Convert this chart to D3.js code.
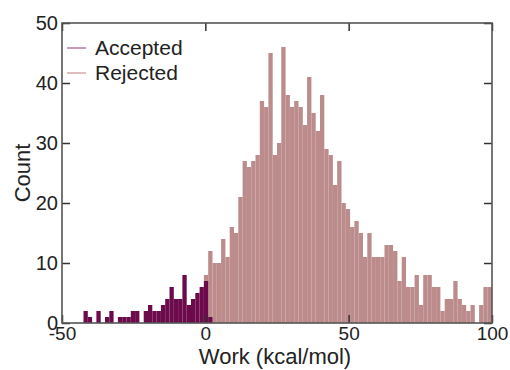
<!DOCTYPE html>
<html>
<head>
<meta charset="utf-8">
<script src="https://cdn.jsdelivr.net/npm/d3@7"></script>
<style>
  body { margin: 0; background: #fff; }
  svg { display: block; font-family: "Liberation Sans", Arial, sans-serif; }
  .tick text { fill: #222; }
  .tick line { stroke: #333; stroke-width: 1.5; }
</style>
</head>
<body>
<svg id="chart" width="510" height="370"></svg>
<script>
// Histogram bins: 100 bins of 1.5 kcal/mol from -50 to 100
const binStart = -50;
const binWidth = 1.5;

// Counts per bin, accepted moves
const accepted = [
  0, 0, 0, 0, 0, 2, 1, 0, 2, 0,
  1, 2, 0, 1, 1, 1, 2, 2, 0, 2,
  3, 2, 2, 3, 4, 6, 4, 4, 8, 3,
  4, 5, 6, 7, 1, 0, 0, 0, 0, 0,
  0, 0, 0, 0, 0, 0, 0, 0, 0, 0,
  0, 0, 0, 0, 0, 0, 0, 0, 0, 0,
  0, 0, 0, 0, 0, 0, 0, 0, 0, 0,
  0, 0, 0, 0, 0, 0, 0, 0, 0, 0,
  0, 0, 0, 0, 0, 0, 0, 0, 0, 0,
  0, 0, 0, 0, 0, 0, 0, 0, 0, 0
];

// Counts per bin, rejected moves
const rejected = [
  0, 0, 0, 0, 0, 0, 0, 0, 0, 0,
  0, 0, 0, 0, 0, 0, 0, 0, 0, 0,
  0, 0, 0, 0, 0, 0, 0, 0, 0, 0,
  0, 0, 0, 8, 12, 10, 10, 14, 11, 16,
  15, 21, 27, 26, 27, 28, 37, 36, 45, 28,
  30, 46, 38, 36, 37, 36, 33, 41, 35, 32,
  38, 29, 28, 23, 27, 20, 19, 16, 17, 15,
  11, 15, 11, 11, 11, 13, 13, 12, 7, 11,
  6, 6, 8, 3, 8, 8, 6, 6, 2, 4,
  4, 7, 4, 3, 2, 3, 0, 3, 6, 6
];

const xTicks = [-50, 0, 50, 100];
const yTicks = [0, 10, 20, 30, 40, 50];

const series = [
  { name: 'Rejected', values: rejected, color: '#bc8b8b', legend: '#d6a9a9' },
  { name: 'Accepted', values: accepted, color: '#6c0a4b', legend: '#b67aa8' }
];

const svg = d3.select('#chart');
const margin = { left: 62, right: 18, top: 23, bottom: 47 };
const width = 510 - margin.left - margin.right;
const height = 370 - margin.top - margin.bottom;

const x = d3.scaleLinear().domain([-50, 100]).range([0, width]);
const y = d3.scaleLinear().domain([0, 50]).range([height, 0]);

const g = svg.append('g').attr('transform', `translate(${margin.left},${margin.top})`);

// Bars: rejected first, accepted drawn over it
series.forEach(s => {
  g.append('g').selectAll('rect')
    .data(s.values.map((v, i) => ({ x0: binStart + i * binWidth, count: v })))
    .enter()
    .filter(d => d.count > 0)
    .append('rect')
    .attr('x', d => x(d.x0))
    .attr('width', d => x(d.x0 + binWidth) - x(d.x0))
    .attr('y', d => y(d.count))
    .attr('height', d => y(0) - y(d.count))
    .attr('fill', s.color);
});

// Axes with inward ticks (plain hyphen for negatives)
const plain = d => String(d);
const bottom = g.append('g').attr('transform', `translate(0,${height})`)
  .call(d3.axisBottom(x).tickValues(xTicks).tickSize(-8).tickPadding(3).tickFormat(plain));
const left = g.append('g')
  .call(d3.axisLeft(y).tickValues(yTicks).tickSize(-8).tickPadding(4).tickFormat(plain));
g.append('g')
  .call(d3.axisTop(x).tickValues(xTicks).tickSize(-8).tickFormat(''));
g.append('g').attr('transform', `translate(${width},0)`)
  .call(d3.axisRight(y).tickValues(yTicks).tickSize(-8).tickFormat(''));

g.selectAll('.domain').remove();
bottom.selectAll('text').style('font-size', '19px');
left.selectAll('text').style('font-size', '20px');

// Frame
g.append('rect')
  .attr('width', width)
  .attr('height', height)
  .attr('fill', 'none')
  .attr('stroke', '#555')
  .attr('stroke-width', 1.6);

// Axis titles
svg.append('text')
  .attr('x', margin.left + x(25) - 2)
  .attr('y', 364)
  .attr('text-anchor', 'middle')
  .style('font-size', '22px')
  .attr('fill', '#222')
  .text('Work (kcal/mol)');

svg.append('text')
  .attr('transform', `translate(30,${margin.top + height / 2}) rotate(-90)`)
  .attr('text-anchor', 'middle')
  .style('font-size', '22px')
  .attr('fill', '#222')
  .text('Count');

// Legend
const legend = g.append('g').attr('transform', 'translate(5,25)');
['Accepted', 'Rejected'].forEach((name, i) => {
  const s = series.find(d => d.name === name);
  const row = legend.append('g').attr('transform', `translate(0,${i * 25})`);
  row.append('line')
    .attr('x1', 0).attr('x2', 19)
    .attr('stroke', s.legend)
    .attr('stroke-width', 1.5);
  row.append('text')
    .attr('x', 28)
    .attr('y', 7)
    .style('font-size', '21px')
    .attr('fill', '#222')
    .text(name);
});
</script>
</body>
</html>
